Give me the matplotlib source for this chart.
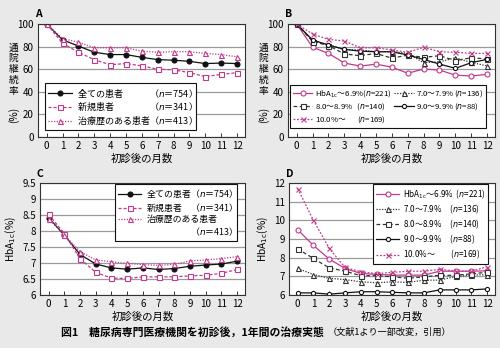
import numpy as np
import matplotlib
matplotlib.use("Agg")
import matplotlib.pyplot as plt
from matplotlib.lines import Line2D

plt.rcParams['font.family'] = ['Noto Sans CJK JP', 'DejaVu Sans']
plt.rcParams['mathtext.fontset'] = 'dejavusans'
plt.rcParams['axes.unicode_minus'] = False

# ---------------- data ----------------
months = np.arange(13)

# A: 通院継続率 (%)
a_all = [100, 86, 80.5, 75, 73, 73, 70.5, 68.5, 68, 67, 65, 65.5, 65]
a_new = [100, 83, 75, 68.5, 64, 65, 63, 60, 59.5, 57, 53.5, 55.5, 57]
a_prev = [100, 87, 84, 79, 79, 79, 76, 75, 75.5, 75.5, 74, 73, 71]

# B: HbA1c 区分別の通院継続率 (%)
b_69 = [100, 79.5, 74, 65.5, 62.8, 64.5, 61.8, 56.5, 60.2, 59.3, 54.8, 54, 55.5]
b_79 = [100, 85.5, 81.5, 77.5, 77, 75.5, 75.5, 74, 65.8, 66.5, 70.2, 66, 63]
b_89 = [100, 84.5, 81, 73.5, 72, 74, 69.8, 72.5, 70.5, 72, 67.6, 70.2, 69]
b_99 = [100, 85.8, 81.4, 77.6, 76, 75.5, 75.5, 72.6, 68.7, 64.6, 60.8, 65.8, 68.7]
b_100 = [100, 91.2, 86.4, 85, 79, 79, 77, 75, 79.4, 75.5, 75, 74, 74]

# C: HbA1c (%)
c_all = [8.42, 7.87, 7.27, 6.97, 6.85, 6.81, 6.85, 6.80, 6.83, 6.90, 6.94, 6.97, 7.06]
c_new = [8.52, 7.92, 7.14, 6.71, 6.53, 6.52, 6.57, 6.57, 6.57, 6.60, 6.62, 6.68, 6.80]
c_prev = [8.38, 7.88, 7.36, 7.10, 7.04, 6.99, 6.95, 6.93, 6.96, 7.07, 7.10, 7.14, 7.20]

# D: HbA1c 区分別の HbA1c (%)
d_69 = [9.50, 8.66, 7.93, 7.43, 7.16, 7.11, 7.07, 7.07, 7.07, 7.28, 7.28, 7.28, 7.30]
d_79 = [7.43, 7.10, 6.90, 6.83, 6.71, 6.66, 6.71, 6.68, 6.80, 6.80, 7.00, 7.07, 7.10]
d_89 = [8.48, 7.96, 7.46, 7.28, 7.04, 7.04, 6.98, 6.90, 6.98, 7.06, 7.06, 7.14, 7.22]
d_99 = [6.12, 6.12, 6.05, 6.12, 6.18, 6.18, 6.15, 6.12, 6.12, 6.28, 6.28, 6.28, 6.33]
d_100 = [11.7, 10.0, 8.5, 7.48, 7.25, 7.15, 7.22, 7.28, 7.28, 7.38, 7.28, 7.28, 7.52]

n_ac = ['754', '341', '413']
n_bd = ['221', '136', '140', '88', '169']

PINK = '#c2398a'
DARK = '#333333'
BG = '#e9e9e9'
FS = 7

fig = plt.figure(figsize=(5.0, 3.48), dpi=100, facecolor=BG)
axA = fig.add_axes([0.076, 0.606, 0.414, 0.325])
axB = fig.add_axes([0.576, 0.606, 0.414, 0.325])
axC = fig.add_axes([0.080, 0.152, 0.410, 0.322])
axD = fig.add_axes([0.578, 0.152, 0.412, 0.322])


def style_axes(ax, ylim, yticks):
    ax.set_facecolor('white')
    ax.set_xlim(-0.55, 12.5)
    ax.set_ylim(*ylim)
    ax.set_xticks(months)
    ax.set_yticks(yticks)
    ax.set_yticklabels([f'{v:g}' for v in yticks])
    ax.tick_params(axis='x', direction='in', length=3, width=0.7, pad=3,
                   labelsize=FS, color=DARK)
    ax.tick_params(axis='y', direction='in', length=0, pad=3, labelsize=FS)
    ax.grid(axis='y', color='#9a9a9a', linewidth=0.9)
    ax.set_axisbelow(True)
    for s in ax.spines.values():
        s.set_color(DARK)
        s.set_linewidth(0.8)
    ax.set_xlabel('初診後の月数', fontsize=FS + 0.5, labelpad=2)


def panel_letter(ax, s):
    ax.text(-0.015, 1.04, s, transform=ax.transAxes, fontsize=FS + 0.5,
            fontweight='bold', ha='left', va='bottom')


def stacked_ylabel(ax):
    ax.text(-0.12, 0.6, '\n'.join('通院継続率'), transform=ax.transAxes,
            fontsize=FS, ha='center', va='center', linespacing=1.1)
    ax.text(-0.12, 0.2, '(%)', transform=ax.transAxes, fontsize=FS + 0.3,
            ha='center', va='center', rotation=90)


def boxed(leg):
    leg.get_frame().set_linewidth(0.8)
    leg.get_frame().set_edgecolor('#111111')


kw = dict(linewidth=0.9, markersize=3.6, markeredgewidth=0.8)
kw_small = dict(linewidth=0.9, markersize=3.0, markeredgewidth=0.8)
leg_kw = dict(borderaxespad=0, fancybox=False, framealpha=1, borderpad=0.35)
blank = Line2D([], [], linestyle='none')

# ---------------- A ----------------
style_axes(axA, (0, 100), np.arange(0, 101, 20))
hA1, = axA.plot(months, a_all, '-', color='#111111', marker='o', mfc='#111111', mec='#111111', **kw)
hA2, = axA.plot(months, a_new, linestyle=(0, (2.5, 1.5)), color=PINK, marker='s', mfc='white', mec=PINK, **kw)
hA3, = axA.plot(months, a_prev, linestyle=(0, (1, 1.2)), color=PINK, marker='^', mfc='white', mec=PINK, **kw)
labels_a = [f'全ての患者　　　（$n$＝{n_ac[0]}）',
            f'新規患者　　　　（$n$＝{n_ac[1]}）',
            f'治療歴のある患者（$n$＝{n_ac[2]}）']
legA = axA.legend([hA1, hA2, hA3], labels_a, loc='lower left',
                  bbox_to_anchor=(0.034, 0.062), fontsize=6.5,
                  handlelength=2.6, handletextpad=0.6, labelspacing=0.15,
                  **leg_kw)
boxed(legA)
panel_letter(axA, 'A')
stacked_ylabel(axA)

# ---------------- B ----------------
style_axes(axB, (0, 100), np.arange(0, 101, 20))
hb69, = axB.plot(months, b_69, '-', color=PINK, marker='o', mfc='white', mec=PINK, **kw)
hb79, = axB.plot(months, b_79, linestyle=(0, (1, 1.2)), color=DARK, marker='^', mfc='white', mec=DARK, **kw)
hb89, = axB.plot(months, b_89, linestyle=(0, (3, 2)), color=DARK, marker='s', mfc='white', mec=DARK, **kw)
hb99, = axB.plot(months, b_99, '-', color='#111111', marker='o', mfc='white', mec='#111111', **kw_small)
hb100, = axB.plot(months, b_100, linestyle=(0, (1.5, 1.3)), color=PINK, marker='x', mec=PINK, **kw)
labels_b = [f'HbA$_{{\\rm 1c}}$～6.9%($n$={n_bd[0]})',
            f'8.0～8.9%   ($n$={n_bd[2]})',
            f'10.0%～       ($n$={n_bd[4]})',
            f'7.0～7.9% ($n$={n_bd[1]})',
            f'9.0～9.9% ($n$={n_bd[3]})']
legB = axB.legend([hb69, hb89, hb100, hb79, hb99], labels_b, ncol=2,
                  loc='lower left', bbox_to_anchor=(0.01, 0.08),
                  fontsize=5.6, handlelength=2.5, handletextpad=0.3,
                  labelspacing=0.3, columnspacing=0.4, **leg_kw)
boxed(legB)
panel_letter(axB, 'B')
stacked_ylabel(axB)

# ---------------- C ----------------
style_axes(axC, (6, 9.5), np.arange(6, 9.51, 0.5))
hc1, = axC.plot(months, c_all, '-', color='#111111', marker='o', mfc='#111111', mec='#111111', **kw)
hc2, = axC.plot(months, c_new, linestyle=(0, (2.5, 1.5)), color=PINK, marker='s', mfc='white', mec=PINK, **kw)
hc3, = axC.plot(months, c_prev, linestyle=(0, (1, 1.2)), color=PINK, marker='^', mfc='white', mec=PINK, **kw)
labels_c = [f'全ての患者（$n$＝{n_ac[0]}）',
            f'新規患者　（$n$＝{n_ac[1]}）',
            '治療歴のある患者',
            f'　　　　　（$n$＝{n_ac[2]}）']
legC = axC.legend([hc1, hc2, hc3, blank], labels_c, loc='upper right',
                  bbox_to_anchor=(0.96, 0.99), fontsize=6.4,
                  handlelength=2.6, handletextpad=0.6, labelspacing=0.15,
                  **leg_kw)
boxed(legC)
axC.set_ylabel('HbA$_{\\rm 1c}$(%)', fontsize=FS + 0.3, labelpad=3)
panel_letter(axC, 'C')

# ---------------- D ----------------
style_axes(axD, (6, 12), np.arange(6, 13, 1))
hd69, = axD.plot(months, d_69, '-', color=PINK, marker='o', mfc='white', mec=PINK, **kw)
hd79, = axD.plot(months, d_79, linestyle=(0, (1, 1.2)), color=DARK, marker='^', mfc='white', mec=DARK, **kw)
hd89, = axD.plot(months, d_89, linestyle=(0, (3, 2)), color=DARK, marker='s', mfc='white', mec=DARK, **kw)
hd99, = axD.plot(months, d_99, '-', color='#111111', marker='o', mfc='white', mec='#111111', **kw_small)
hd100, = axD.plot(months, d_100, linestyle=(0, (1.5, 1.3)), color=PINK, marker='x', mec=PINK, **kw)
labels_d = [f'HbA$_{{\\rm 1c}}$～6.9%  ($n$={n_bd[0]})',
            f'7.0～7.9%     ($n$={n_bd[1]})',
            f'8.0～8.9%     ($n$={n_bd[2]})',
            f'9.0～9.9%     ($n$={n_bd[3]})',
            f'10.0%～         ($n$={n_bd[4]})']
legD = axD.legend([hd69, hd79, hd89, hd99, hd100], labels_d,
                  loc='upper right', bbox_to_anchor=(0.966, 0.99),
                  fontsize=5.8, handlelength=2.9, handletextpad=0.4,
                  labelspacing=0.2, **leg_kw)
boxed(legD)
axD.set_ylabel('HbA$_{\\rm 1c}$(%)', fontsize=FS + 0.3, labelpad=3)
panel_letter(axD, 'D')

# ---------------- caption ----------------
fig.text(0.648, 0.046, '図1　糖尿病専門医療機関を初診後，1年間の治療実態',
         fontsize=7.8, fontweight='bold', ha='right', va='center')
fig.text(0.655, 0.046, '（文献1より一部改変，引用）', fontsize=6.6,
         ha='left', va='center')

fig.savefig('out.png', dpi=100, facecolor=BG)
